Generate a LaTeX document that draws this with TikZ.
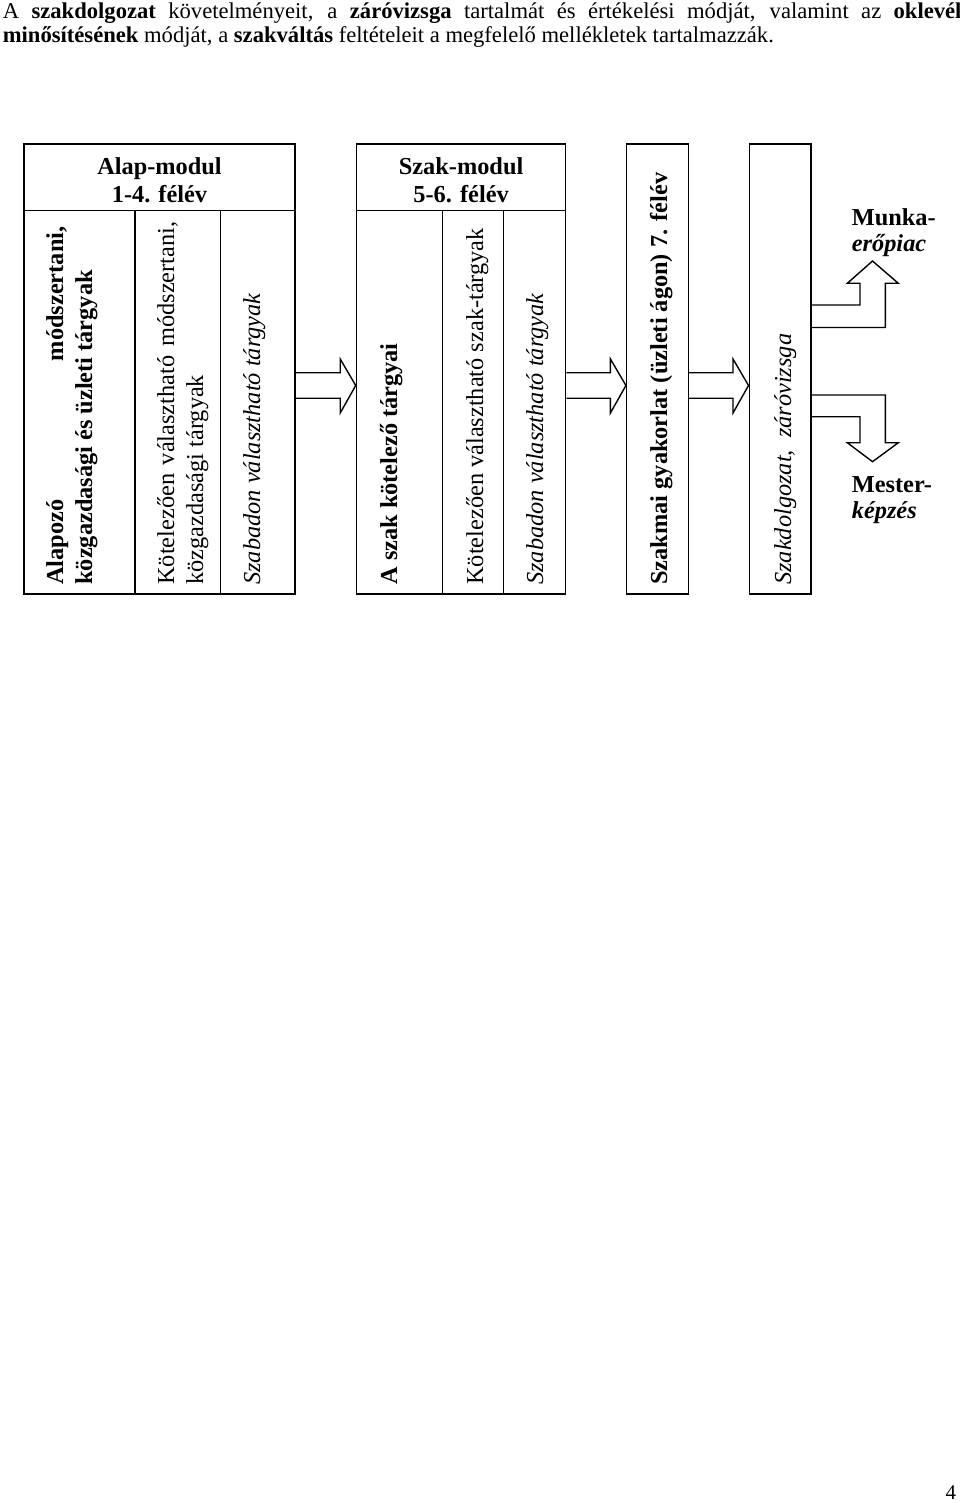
\documentclass[tikz,border=0pt]{standalone}
\usepackage{fontspec}
\setmainfont{Liberation Serif}
\usetikzlibrary{calc,fit}
\begin{document}
\begin{tikzpicture}[x=0.575pt,y=-0.575pt,
  box/.style={draw,line width=0.9pt,inner sep=0pt,fit=#1},
  cell/.style={line width=0.9pt},
  arr/.style={line width=0.8pt,line join=miter},
  txt/.style={inner sep=0pt,font=\fontsize{14}{16}\selectfont},
  vtxt/.style={inner sep=0pt,rotate=90,anchor=base west,font=\fontsize{14}{16}\selectfont},
  lbl/.style={inner sep=0pt,anchor=base west,font=\fontsize{14}{16}\selectfont\bfseries},
  top/.style={inner sep=0pt,anchor=base west,font=\fontsize{13}{15}\selectfont},
  pgno/.style={inner sep=0pt,anchor=base east,font=\fontsize{12}{13.8}\selectfont}]
\useasboundingbox (0,0) rectangle (960,1503);

% intro text
\node[top] (t1) at (2.5,18.3) {\hbox to 551.2pt{A \textbf{szakdolgozat} követelményeit, a \textbf{záróvizsga} tartalmát és értékelési módját, valamint az \textbf{oklevél}}};
\node[top] (t2) at (2.5,42.7) {\textbf{minősítésének} módját, a \textbf{szakváltás} feltételeit a megfelelő mellékletek tartalmazzák.};

% boxes
\coordinate (a1) at (24,144);   \coordinate (a2) at (295,594);
\coordinate (s1) at (356.5,144); \coordinate (s2) at (565.7,594);
\coordinate (g1) at (626.7,144); \coordinate (g2) at (688.3,594);
\coordinate (d1) at (749.3,144); \coordinate (d2) at (811,594);
\node[box=(a1)(a2)] (alap) {};
\node[box=(s1)(s2)] (szak) {};
\node[box=(g1)(g2)] (gyak) {};
\node[box=(d1)(d2)] (dolg) {};

% inner lines
\draw[cell] (24,210.7) -- (295,210.7);
\draw[cell] (135,210.7) -- (135,594);
\draw[cell] (220.7,210.7) -- (220.7,594);
\draw[cell] (356.5,210.7) -- (565.7,210.7);
\draw[cell] (442.7,210.7) -- (442.7,594);
\draw[cell] (503.3,210.7) -- (503.3,594);

% headers
\node[txt,font=\fontsize{14}{16}\selectfont\bfseries,anchor=base] (h1a) at (159.5,175) {Alap-modul};
\node[txt,font=\fontsize{14}{16}\selectfont\bfseries,anchor=base] (h1b) at (159.5,202.7) {1-4. félév};
\node[txt,font=\fontsize{14}{16}\selectfont\bfseries,anchor=base] (h2a) at (461.1,175) {Szak-modul};
\node[txt,font=\fontsize{14}{16}\selectfont\bfseries,anchor=base] (h2b) at (461.1,202.7) {5-6. félév};

% rotated texts
\node[vtxt,font=\fontsize{14}{16}\selectfont\bfseries] (c1a) at (63,585) {\hbox to 205.9pt{Alapozó\hfill módszertani,}};
\node[vtxt,font=\fontsize{14}{16}\selectfont\bfseries] (c1b) at (92,585) {közgazdasági és üzleti tárgyak};
\node[vtxt] (c2a) at (174,585) {\hbox to 208.7pt{Kötelezően választható módszertani,}};
\node[vtxt] (c2b) at (203,585) {közgazdasági tárgyak};
\node[vtxt,font=\fontsize{14}{16}\selectfont\itshape] (c3) at (260,585) {Szabadon választható tárgyak};
\node[vtxt,font=\fontsize{14}{16}\selectfont\bfseries] (c4) at (397,585) {A szak kötelező tárgyai};
\node[vtxt] (c5) at (483,585) {Kötelezően választható szak-tárgyak};
\node[vtxt,font=\fontsize{14}{16}\selectfont\itshape] (c6) at (543,585) {Szabadon választható tárgyak};
\node[vtxt,font=\fontsize{14}{16}\selectfont\bfseries] (c7) at (667,585) {Szakmai gyakorlat (üzleti ágon) 7. félév};
\node[vtxt,font=\fontsize{14}{16}\selectfont\itshape] (c8) at (791,585) {Szakdolgozat,\ \ záróvizsga};

% right labels
\node[lbl] (m1) at (851.5,225) {Munka-};
\node[lbl,font=\fontsize{14}{16}\selectfont\bfseries\itshape] (m2) at (851.5,251.5) {erőpiac};
\node[lbl] (k1) at (851.5,492) {Mester-};
\node[lbl,font=\fontsize{14}{16}\selectfont\bfseries\itshape] (k2) at (851.5,518) {képzés};

% horizontal block arrows
\coordinate (p1) at (alap.east |- 0,385.5);
\coordinate (q1) at (szak.west |- 0,385.5);
\coordinate (p2) at (szak.east |- 0,385.5);
\coordinate (q2) at (gyak.west |- 0,385.5);
\coordinate (p3) at (gyak.east |- 0,385.5);
\coordinate (q3) at (dolg.west |- 0,385.5);
\foreach \s/\t in {p1/q1,p2/q2,p3/q3}{
  \draw[arr] ($(\s)+(0,-12.7)$) -- ($(\t)+(-15.5,-12.7)$) -- ($(\t)+(-15.5,-26.5)$) -- (\t)
     -- ($(\t)+(-15.5,27.5)$) -- ($(\t)+(-15.5,12.8)$) -- ($(\s)+(0,12.8)$);
}

% bent arrows
\coordinate (u0) at (dolg.east |- 0,305);
\coordinate (u1) at (dolg.east |- 0,327.5);
\coordinate (ut) at (872.5,261);
\draw[arr] (u0) -- (860,305) -- (860,283.3) -- (847.3,283.3) -- (ut)
  -- (898.3,283.3) -- (885.3,283.3) -- (885.3,327.5) -- (u1);
\coordinate (w0) at (dolg.east |- 0,395);
\coordinate (w1) at (dolg.east |- 0,416.7);
\coordinate (wt) at (872.5,461.7);
\draw[arr] (w0) -- (885.3,395) -- (885.3,442.7) -- (898.3,442.7) -- (wt)
  -- (847.3,442.7) -- (860,442.7) -- (860,416.7) -- (w1);

% page number
\node[pgno] (pg) at (956.5,1499) {4};
\end{tikzpicture}
\end{document}
